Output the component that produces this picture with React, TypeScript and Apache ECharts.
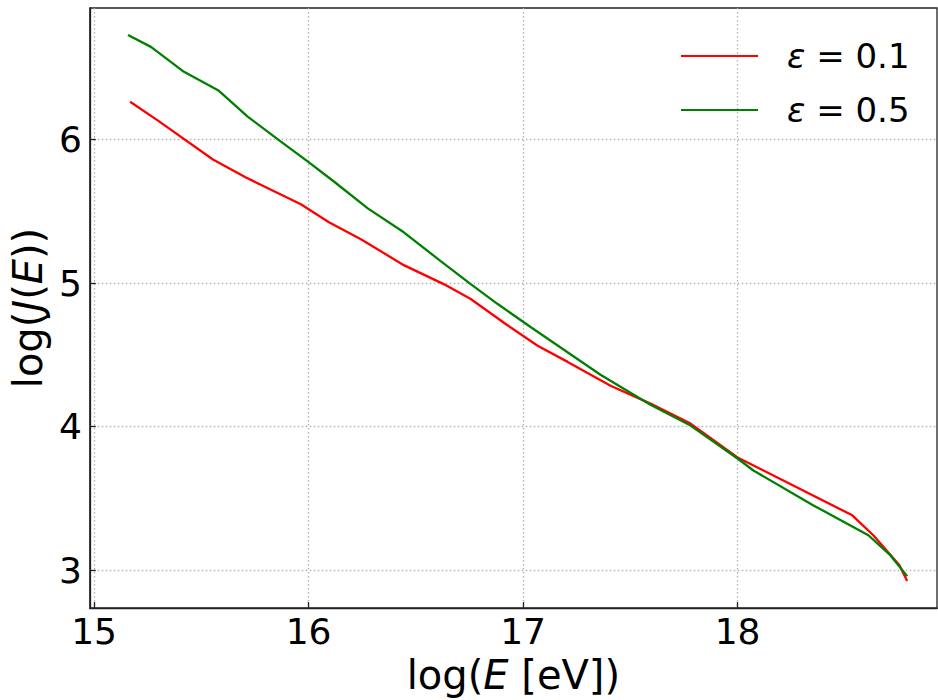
import React, { useEffect, useRef } from "react";
import * as echarts from "echarts";

const redX = [15.168, 15.298, 15.554, 15.708, 15.964, 16.095, 16.244, 16.444, 16.63, 16.756, 16.919, 17.068, 17.208, 17.408, 17.594, 17.781, 18.0, 18.535, 18.633, 18.754, 18.791];
const redY = [6.264, 6.132, 5.861, 5.736, 5.549, 5.424, 5.306, 5.125, 4.993, 4.889, 4.715, 4.563, 4.451, 4.285, 4.16, 4.021, 3.785, 3.382, 3.243, 3.035, 2.924];
const greenX = [15.158, 15.265, 15.419, 15.582, 15.716, 15.871, 15.997, 16.118, 16.276, 16.444, 16.616, 16.756, 16.882, 17.035, 17.361, 17.594, 17.781, 18.0, 18.074, 18.354, 18.61, 18.712, 18.791];
const greenY = [6.729, 6.646, 6.472, 6.34, 6.16, 5.986, 5.847, 5.708, 5.521, 5.354, 5.153, 4.993, 4.854, 4.694, 4.361, 4.153, 4.007, 3.778, 3.694, 3.451, 3.243, 3.104, 2.958];
const xTicks = [15, 16, 17, 18];
const yTicks = [3, 4, 5, 6];
const seriesNames = ["ε = 0.1", "ε = 0.5"];

const FONT = "DejaVu Sans";

export default function App() {
  const ref = useRef<HTMLDivElement>(null);
  useEffect(() => {
    if (!ref.current) return;
    const chart = echarts.init(ref.current, undefined, { renderer: "svg" });
    const zip = (xs: number[], ys: number[]) => xs.map((x, i) => [x, ys[i]]);
    const gridLine = { show: true, lineStyle: { color: "#b0b0b0", type: [1.5, 2.5], width: 1.3 } };
    const nameRich = {
      a: { fontFamily: FONT, fontSize: 40, color: "#000" },
      b: { fontFamily: FONT, fontSize: 40, fontStyle: "italic", color: "#000" },
    };
    chart.setOption({
      animation: false,
      backgroundColor: "#ffffff",
      grid: { left: 89, right: 1, top: 8, bottom: 90, show: true, borderColor: "#222", borderWidth: 1.3, backgroundColor: "transparent" },
      legend: {
        orient: "vertical",
        left: 676,
        top: 34,
        itemWidth: 77,
        itemHeight: 2,
        itemGap: 20,
        icon: "rect",
        data: seriesNames,
        formatter: (name: string) => `{i|ε}{n|${name.slice(1)}}`,
        textStyle: {
          fontFamily: FONT,
          fontSize: 34,
          color: "#000",
          padding: [0, 0, 0, 24],
          rich: {
            i: { fontFamily: FONT, fontStyle: "italic", fontSize: 34, color: "#000", lineHeight: 36 },
            n: { fontFamily: FONT, fontSize: 34, color: "#000", lineHeight: 36 },
          },
        },
      },
      xAxis: {
        type: "value",
        min: 14.98,
        max: 18.93,
        name: "{a|log(}{b|E}{a| [eV])}",
        nameLocation: "middle",
        nameGap: 47,
        nameTextStyle: { rich: nameRich },
        axisLine: { show: true, onZero: false, lineStyle: { color: "#222", width: 1.3 } },
        axisTick: { show: true, inside: true, length: 6, customValues: xTicks, lineStyle: { color: "#222", width: 1.3 } },
        axisLabel: { customValues: xTicks, fontFamily: FONT, fontSize: 36, color: "#000", margin: 5 },
        splitLine: gridLine,
      },
      yAxis: {
        type: "value",
        min: 2.736,
        max: 6.917,
        name: "{a|log(}{b|J}{a|(}{b|E}{a|))}",
        nameLocation: "middle",
        nameGap: 38,
        nameTextStyle: { rich: nameRich },
        axisLine: { show: true, onZero: false, lineStyle: { color: "#222", width: 1.3 } },
        axisTick: { show: true, inside: true, length: 6, customValues: yTicks, lineStyle: { color: "#222", width: 1.3 } },
        axisLabel: { customValues: yTicks, fontFamily: FONT, fontSize: 36, color: "#000", margin: 8 },
        splitLine: gridLine,
      },
      series: [
        {
          name: seriesNames[0],
          type: "line",
          data: zip(redX, redY),
          showSymbol: false,
          symbol: "none",
          lineStyle: { color: "#ff0000", width: 2.3 },
          itemStyle: { color: "#ff0000" },
        },
        {
          name: seriesNames[1],
          type: "line",
          data: zip(greenX, greenY),
          showSymbol: false,
          symbol: "none",
          lineStyle: { color: "#008000", width: 2.3 },
          itemStyle: { color: "#008000" },
        },
      ],
    });
    return () => chart.dispose();
  }, []);
  return <div ref={ref} style={{ width: 938, height: 700, position: "absolute", left: 0, top: 0 }} />;
}
